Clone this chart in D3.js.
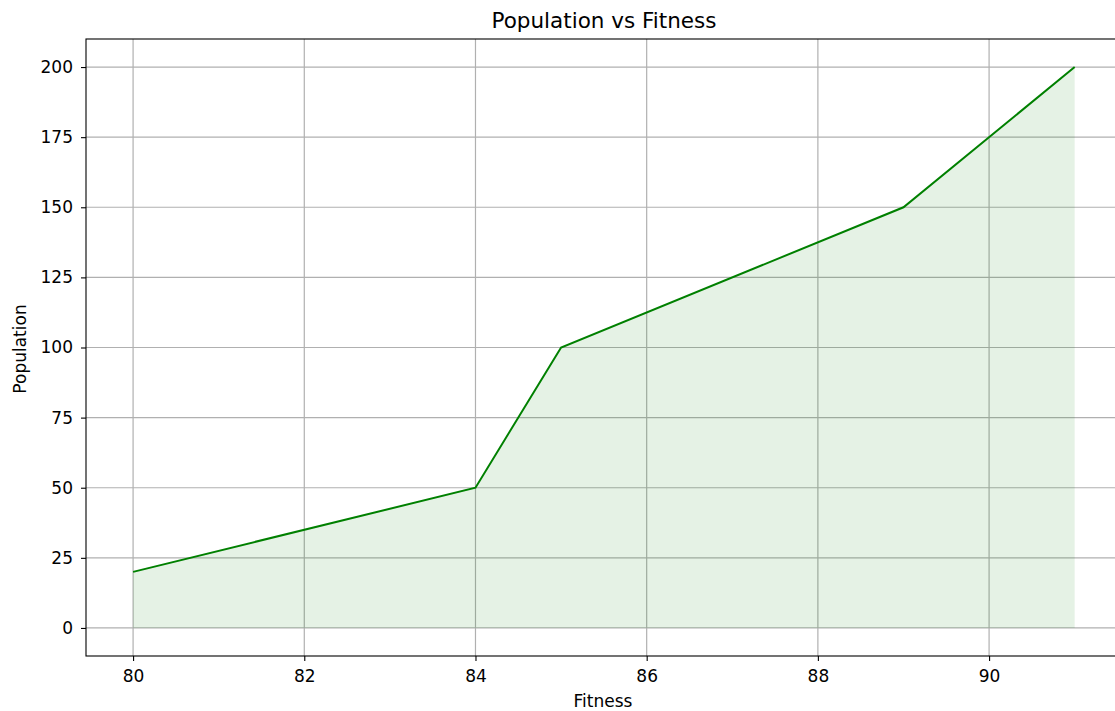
<!DOCTYPE html>
<html><head><meta charset="utf-8">
<script src="https://cdn.jsdelivr.net/npm/d3@7"></script>
<style>
body{margin:0;background:#fff;}
svg{display:block;font-family:"DejaVu Sans",sans-serif;}
</style></head>
<body>
<svg id="c" width="1115" height="711"></svg>
<script>
const fitness = [80, 84, 85, 89, 91];
const population = [20, 50, 100, 150, 200];
const xTicks = [80, 82, 84, 86, 88, 90];
const yTicks = [0, 25, 50, 75, 100, 125, 150, 175, 200];
const title = "Population vs Fitness";
const xLabel = "Fitness";
const yLabel = "Population";

(function () {
const svg = d3.select("#c");
const mLeft = 86, mTop = 39, mBottom = 656;
const pxPerUnit = 85.6;
const mRight = mLeft + (91.55 - 79.45) * pxPerUnit;

const x = d3.scaleLinear().domain([79.45, 91.55]).range([mLeft, mRight]);
const y = d3.scaleLinear().domain([-10, 210]).range([mBottom, mTop]);

const data = fitness.map((f, i) => ({f, p: population[i]}));

// grid
const g = svg.append("g");
g.selectAll(".gx").data(xTicks).enter().append("line")
  .attr("x1", d => x(d)).attr("x2", d => x(d)).attr("y1", mTop).attr("y2", mBottom)
  .attr("stroke", "#b0b0b0").attr("stroke-width", 1.2);
g.selectAll(".gy").data(yTicks).enter().append("line")
  .attr("y1", d => y(d)).attr("y2", d => y(d)).attr("x1", mLeft).attr("x2", mRight)
  .attr("stroke", "#b0b0b0").attr("stroke-width", 1.2);

// area
svg.append("path").datum(data)
  .attr("d", d3.area().x(d => x(d.f)).y0(y(0)).y1(d => y(d.p)))
  .attr("fill", "green").attr("fill-opacity", 0.1).attr("stroke", "none");

// line
svg.append("path").datum(data)
  .attr("d", d3.line().x(d => x(d.f)).y(d => y(d.p)))
  .attr("fill", "none").attr("stroke", "green").attr("stroke-width", 2);

// axes
const xAxis = d3.axisBottom(x).tickValues(xTicks).tickSize(5).tickPadding(9).tickFormat(d3.format("d"));
const yAxis = d3.axisLeft(y).tickValues(yTicks).tickSize(5).tickPadding(8).tickFormat(d3.format("d"));
const ax = svg.append("g").attr("transform", `translate(0,${mBottom})`).call(xAxis);
const ay = svg.append("g").attr("transform", `translate(${mLeft},0)`).call(yAxis);
[ax, ay].forEach(a => {
  a.select(".domain").remove();
  a.selectAll("line").attr("stroke", "#000").attr("stroke-width", 1.1);
  a.selectAll("text").attr("fill", "#000").style("font-size", "17px").style("font-family", "DejaVu Sans");
});

// spines
svg.append("rect").attr("x", mLeft).attr("y", mTop).attr("width", mRight - mLeft).attr("height", mBottom - mTop)
  .attr("fill", "none").attr("stroke", "#000").attr("stroke-width", 1.1);

// labels
svg.append("text").attr("x", 604).attr("y", 28).attr("text-anchor", "middle")
  .style("font-size", "21.5px").text(title);
svg.append("text").attr("x", 603).attr("y", 707).attr("text-anchor", "middle")
  .style("font-size", "17px").text(xLabel);
svg.append("text").attr("transform", "translate(26,349) rotate(-90)").attr("text-anchor", "middle")
  .style("font-size", "17px").text(yLabel);
})();
</script>
</body></html>
